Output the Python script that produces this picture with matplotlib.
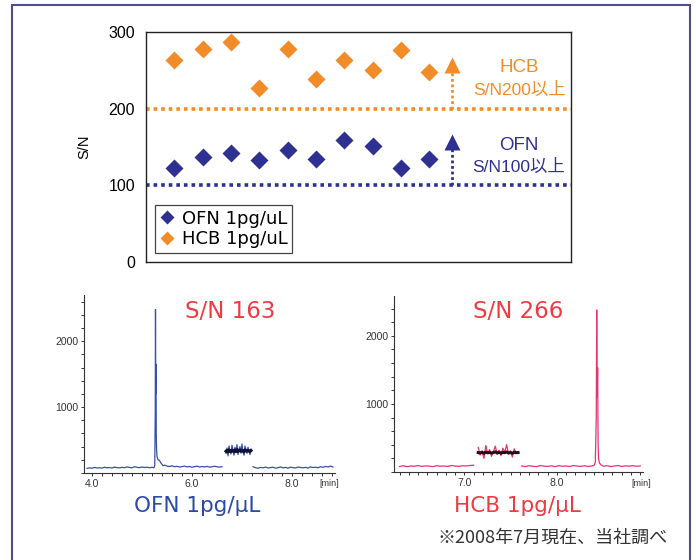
import numpy as np
import matplotlib
matplotlib.use("Agg")
import matplotlib.pyplot as plt
from matplotlib.patches import Rectangle
from matplotlib.ticker import MultipleLocator

plt.rcParams['font.family'] = ['Liberation Sans', 'Noto Sans CJK JP', 'DejaVu Sans']
WIDE = ['DejaVu Sans', 'Noto Sans CJK JP']

# ---------------- data: top S/N chart ----------------
runs = [1, 2, 3, 4, 5, 6, 7, 8, 9, 10]
ofn_sn = [122, 137, 142, 133, 146, 134, 159, 151, 122, 135]
hcb_sn = [264, 278, 287, 227, 278, 239, 264, 251, 277, 248]
ofn_limit = 100
hcb_limit = 200
yticks_top = [0, 100, 200, 300]

# ---------------- data: OFN chromatogram ----------------
ofn_a_t = np.linspace(3.90, 5.20, 27)
ofn_a_v = [70, 78, 72, 85, 76, 80, 74, 88, 79, 83, 75, 90, 82, 78, 86, 80, 92, 84, 79, 95, 86, 82, 90, 84, 88, 80, 86]
ofn_pk_t = [5.24, 5.255, 5.265, 5.27, 5.275, 5.28, 5.285, 5.29, 5.30, 5.32, 5.35, 5.38, 5.42]
ofn_pk_v = [80, 120, 900, 2480, 1200, 1650, 600, 380, 250, 200, 190, 150, 110]
ofn_b_t = np.linspace(5.45, 6.60, 24)
ofn_b_v = [120, 105, 98, 110, 95, 102, 90, 97, 105, 92, 99, 88, 96, 104, 91, 98, 93, 100, 89, 95, 102, 94, 90, 96]
ofn_n_t = np.linspace(6.68, 7.18, 26)
ofn_n_v = [300, 380, 260, 410, 330, 290, 420, 350, 270, 390, 310, 430, 280, 360, 400, 300, 440, 320, 270, 410, 350, 300, 390, 330, 280, 360]
ofn_n_k = [330, 345, 320, 350, 335, 325, 345, 340, 320, 350, 330, 355, 325, 340, 350, 330, 345, 335, 320, 350, 340, 330, 345, 335, 325, 340]
ofn_c_t = np.linspace(7.22, 8.82, 33)
ofn_c_v = [95, 80, 72, 85, 78, 90, 76, 82, 88, 74, 80, 92, 78, 85, 73, 88, 81, 76, 90, 84, 79, 86, 75, 92, 83, 88, 80, 95, 86, 100, 92, 105, 90]

# ---------------- data: HCB chromatogram ----------------
hcb_a_t = np.linspace(6.30, 7.10, 21)
hcb_a_v = [80, 92, 78, 88, 84, 95, 82, 90, 86, 79, 93, 85, 88, 81, 96, 87, 83, 92, 89, 95, 100]
hcb_n_t = np.linspace(7.15, 7.58, 22)
hcb_n_v = [360, 250, 310, 200, 390, 270, 330, 230, 300, 380, 260, 320, 240, 350, 290, 400, 260, 310, 220, 340, 280, 300]
hcb_n_k = [285, 280, 290, 275, 292, 282, 288, 278, 286, 295, 280, 290, 276, 288, 284, 294, 280, 287, 276, 290, 283, 286]
hcb_b_t = np.linspace(7.62, 8.38, 20)
hcb_b_v = [88, 80, 92, 84, 78, 95, 86, 82, 90, 79, 93, 85, 88, 81, 96, 87, 83, 92, 80, 90]
hcb_pk_t = [8.40, 8.415, 8.425, 8.43, 8.435, 8.44, 8.445, 8.45, 8.46, 8.48]
hcb_pk_v = [95, 140, 800, 2380, 1100, 1530, 400, 200, 130, 100]
hcb_c_t = np.linspace(8.50, 8.90, 11)
hcb_c_v = [85, 92, 80, 88, 95, 82, 90, 86, 93, 84, 90]

# ---------------- style ----------------
BLUE = '#2e3192'
ORANGE = '#f28c28'
RED = '#ee3b43'
TRACE_BLUE = '#3550a8'
PINK = '#e8336d'
W, H = 696, 560


def fx(x):
    return x / W


def fy(y):
    return 1 - y / H


fig = plt.figure(figsize=(6.96, 5.60), dpi=100)
fig.patch.set_facecolor('white')

# outer frame
fig.add_artist(Rectangle((fx(12), fy(600)), fx(690) - fx(12), fy(5) - fy(600),
                         transform=fig.transFigure, fill=False,
                         edgecolor='#4a4f8c', linewidth=1.5))

# ---------------- top chart ----------------
ax = fig.add_axes([fx(146), fy(262), fx(571) - fx(146), fy(32) - fy(262)])
ax.set_xlim(0, 15)
ax.set_ylim(0, 300)
ax.axhline(hcb_limit, color=ORANGE, lw=2.6, linestyle=(0, (1, 1.1)), dash_capstyle='butt')
ax.axhline(ofn_limit, color=BLUE, lw=2.6, linestyle=(0, (1, 1.1)), dash_capstyle='butt')
ax.plot(runs, ofn_sn, 'D', color=BLUE, ms=9, label='OFN 1pg/uL', mec='none')
ax.plot(runs, hcb_sn, 'D', color=ORANGE, ms=9, label='HCB 1pg/uL', mec='none')
# arrows
ax.plot([10.8, 10.8], [hcb_limit, 252], color=ORANGE, lw=2, linestyle=(0, (1, 1)))
ax.plot([10.8], [257], '^', color=ORANGE, ms=12, mec='none')
ax.plot([10.8, 10.8], [ofn_limit, 151], color=BLUE, lw=2, linestyle=(0, (1, 1)))
ax.plot([10.8], [156], '^', color=BLUE, ms=12, mec='none')
ax.set_yticks(yticks_top)
ax.set_xticks([])
ax.tick_params(axis='y', length=0, labelsize=11.5, pad=8)
for s in ax.spines.values():
    s.set_linewidth(1.0)
    s.set_color('#222222')
ax.set_ylabel('S/N', fontsize=10.5, labelpad=12)
leg = ax.legend(loc='lower left', bbox_to_anchor=(0.022, 0.04), borderaxespad=0,
                prop={'family': WIDE, 'size': 13},
                handlelength=0.8, handletextpad=0.4, markerscale=0.75,
                fancybox=False, edgecolor='#444444', framealpha=1,
                borderpad=0.25, labelspacing=0.15)
leg.get_frame().set_linewidth(0.9)

fig.text(fx(519), fy(68), 'HCB', color=ORANGE, fontsize=13.5, ha='center', va='center')
fig.text(fx(519), fy(90), 'S/N200以上', color=ORANGE, fontsize=12.5, ha='center', va='center')
fig.text(fx(519), fy(146), 'OFN', color=BLUE, fontsize=13.5, ha='center', va='center')
fig.text(fx(519), fy(167), 'S/N100以上', color=BLUE, fontsize=12.5, ha='center', va='center')


def chrom_axes(rect, xlim, ylim, major_x, minor_x, xlabels):
    a = fig.add_axes(rect)
    a.set_xlim(*xlim)
    a.set_ylim(*ylim)
    for side in ['top', 'right']:
        a.spines[side].set_visible(False)
    for side in ['left', 'bottom']:
        a.spines[side].set_linewidth(0.8)
        a.spines[side].set_color('#333333')
    a.set_xticks(major_x)
    a.set_xticklabels(xlabels)
    a.xaxis.set_minor_locator(MultipleLocator(minor_x))
    a.set_yticks([1000, 2000])
    a.set_yticklabels(['1000', '2000'])
    a.yaxis.set_minor_locator(MultipleLocator(200))
    a.tick_params(which='both', direction='out', length=2.2, width=0.7,
                  color='#333333', labelsize=7.5, pad=2, labelcolor='#333333')
    return a


# ---------------- OFN chromatogram ----------------
a1 = chrom_axes([fx(84), fy(473), fx(335) - fx(84), fy(295) - fy(473)],
                (3.84, 8.86), (0, 2700), [4.0, 6.0, 8.0], 0.2, ['4.0', '6.0', '8.0'])
a1.plot(np.concatenate([ofn_a_t, ofn_pk_t, ofn_b_t]), ofn_a_v + ofn_pk_v + ofn_b_v,
        color=TRACE_BLUE, lw=0.9)
a1.plot(ofn_n_t, ofn_n_v, color=TRACE_BLUE, lw=0.9)
a1.plot(ofn_n_t, ofn_n_k, color='#111133', lw=2.2)
a1.plot(ofn_c_t, ofn_c_v, color=TRACE_BLUE, lw=0.9)
fig.text(fx(329), fy(483), '[min]', fontsize=6.5, color='#333333', ha='center', va='center')

# ---------------- HCB chromatogram ----------------
a2 = chrom_axes([fx(394), fy(472), fx(643) - fx(394), fy(296) - fy(472)],
                (6.24, 8.93), (0, 2585), [7.0, 8.0], 0.1, ['7.0', '8.0'])
a2.plot(hcb_a_t, hcb_a_v, color=PINK, lw=0.9)
a2.plot(hcb_n_t, hcb_n_v, color=PINK, lw=0.9)
a2.plot(hcb_n_t, hcb_n_k, color='#221111', lw=2.2)
a2.plot(np.concatenate([hcb_b_t, hcb_pk_t, hcb_c_t]), hcb_b_v + hcb_pk_v + hcb_c_v,
        color=PINK, lw=0.9)
fig.text(fx(641), fy(483), '[min]', fontsize=6.5, color='#333333', ha='center', va='center')

# titles and labels
fig.text(fx(230), fy(311), 'S/N 163', color=RED, fontsize=16.5, family=WIDE,
         ha='center', va='center')
fig.text(fx(518), fy(311), 'S/N 266', color=RED, fontsize=16.5, family=WIDE,
         ha='center', va='center')
fig.text(fx(197), fy(506), 'OFN 1pg/μL', color='#2b4aa8', fontsize=15.5, family=WIDE,
         ha='center', va='center')
fig.text(fx(517), fy(506), 'HCB 1pg/μL', color=RED, fontsize=15.5, family=WIDE,
         ha='center', va='center')
fig.text(fx(553), fy(538), '※2008年7月現在、当社調べ', color='#333333', fontsize=13,
         family=['Noto Sans CJK JP', 'DejaVu Sans'], ha='center', va='center')

fig.savefig('out.png', dpi=100)
